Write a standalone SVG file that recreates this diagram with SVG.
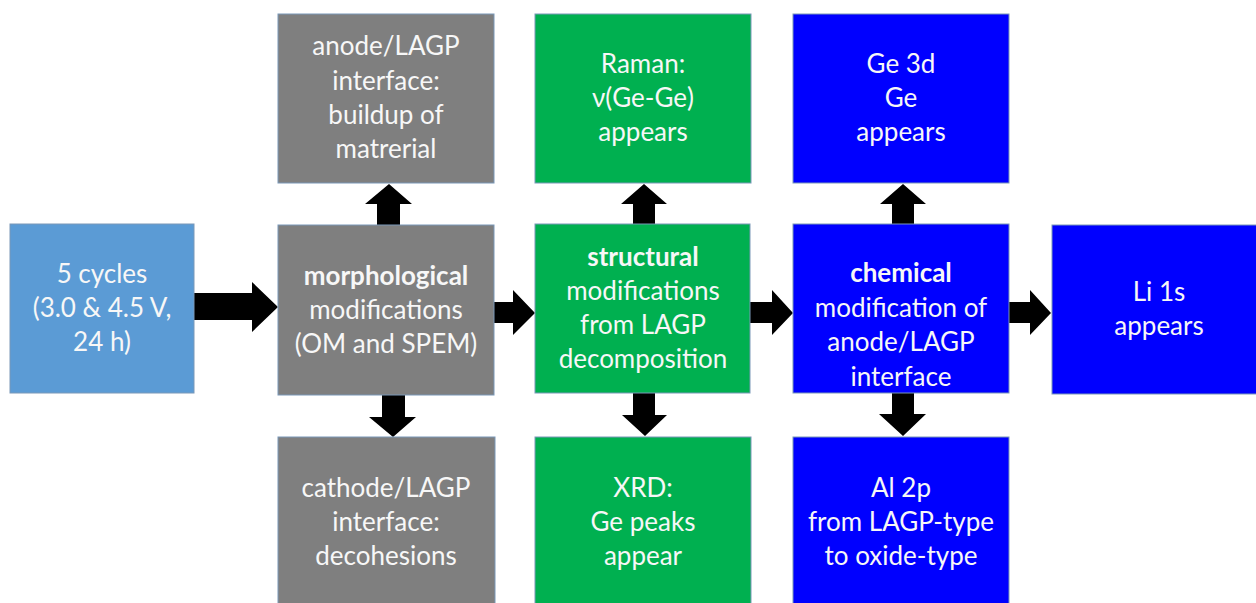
<svg xmlns="http://www.w3.org/2000/svg" width="1256" height="603" viewBox="0 0 1256 603">
  <style>
    .box { stroke: #7a98b8; stroke-width: 1; }
    .lb { fill: #5b9bd5; }
    .gr { fill: #7f7f7f; }
    .gn { fill: #00b050; }
    .bl { fill: #0000ff; }
    text { font-family: Lato, "Open Sans", "Liberation Sans", sans-serif; font-size: 26px; fill: #f7f7f7; text-anchor: middle; }
    .b { font-weight: bold; }
    .arrow { fill: #000000; }
  </style>
  <rect x="0" y="0" width="1256" height="603" fill="#ffffff"/>

  <g id="connectors">
    <!-- horizontal block arrows -->
    <polygon class="arrow" points="194,293 252,293 252,282 278,307 252,332 252,320 194,320"/>
    <polygon class="arrow" points="494,302 513,302 513,290 535,313 513,335 513,323 494,323"/>
    <polygon class="arrow" points="750,302 772,302 772,290 793,313 772,335 772,323 750,323"/>
    <polygon class="arrow" points="1009,302 1030,302 1030,290 1051,313 1030,335 1030,323 1009,323"/>
    <!-- upward block arrows -->
    <polygon class="arrow" points="377,225 377,204 365,204 389,184 412,204 400,204 400,225"/>
    <polygon class="arrow" points="633,224 633,204 621,204 644,184 667,204 655,204 655,224"/>
    <polygon class="arrow" points="892,224 892,204 880,204 903,184 926,204 914,204 914,224"/>
    <!-- downward block arrows -->
    <polygon class="arrow" points="382,395 382,417 369,417 393,437 416,417 405,417 405,395"/>
    <polygon class="arrow" points="633,393 633,415 622,415 645,436 667,415 655,415 655,393"/>
    <polygon class="arrow" points="892,393 892,414 879,414 903,436 926,414 914,414 914,393"/>
  </g>

  <g id="cycles">
    <rect class="box lb" x="10" y="224" width="184" height="169"/>
    <text x="102" y="283">5 cycles</text>
    <text x="102" y="317">(3.0 &amp; 4.5 V,</text>
    <text x="102" y="351">24 h)</text>
  </g>

  <g id="anode-interface">
    <rect class="box gr" x="278" y="14" width="216" height="169"/>
    <text x="386" y="55">anode/LAGP</text>
    <text x="386" y="90">interface:</text>
    <text x="386" y="124">buildup of</text>
    <text x="386" y="158">matrerial</text>
  </g>

  <g id="morphological">
    <rect class="box gr" x="278" y="225" width="216" height="170"/>
    <text class="b" x="386" y="285">morphological</text>
    <text x="386" y="319">modifications</text>
    <text x="386" y="353">(OM and SPEM)</text>
  </g>

  <g id="cathode-interface">
    <rect class="box gr" x="278" y="437" width="217" height="175"/>
    <text x="386" y="497">cathode/LAGP</text>
    <text x="386" y="531">interface:</text>
    <text x="386" y="565">decohesions</text>
  </g>

  <g id="raman">
    <rect class="box gn" x="535" y="14" width="216" height="169"/>
    <text x="643" y="73">Raman:</text>
    <text x="643" y="107">ν(Ge-Ge)</text>
    <text x="643" y="141">appears</text>
  </g>

  <g id="structural">
    <rect class="box gn" x="535" y="224" width="215" height="169"/>
    <text class="b" x="643" y="266">structural</text>
    <text x="643" y="300">modifications</text>
    <text x="643" y="334">from LAGP</text>
    <text x="643" y="368">decomposition</text>
  </g>

  <g id="xrd">
    <rect class="box gn" x="535" y="437" width="216" height="175"/>
    <text x="643" y="497">XRD:</text>
    <text x="643" y="531">Ge peaks</text>
    <text x="643" y="565">appear</text>
  </g>

  <g id="ge3d">
    <rect class="box bl" x="793" y="14" width="216" height="169"/>
    <text x="901" y="73">Ge 3d</text>
    <text x="901" y="107">Ge</text>
    <text x="901" y="141">appears</text>
  </g>

  <g id="chemical">
    <rect class="box bl" x="793" y="224" width="216" height="169"/>
    <text class="b" x="901" y="282">chemical</text>
    <text x="901" y="317">modification of</text>
    <text x="901" y="351">anode/LAGP</text>
    <text x="901" y="386">interface</text>
  </g>

  <g id="al2p">
    <rect class="box bl" x="793" y="437" width="216" height="175"/>
    <text x="901" y="497">Al 2p</text>
    <text x="901" y="531">from LAGP-type</text>
    <text x="901" y="565">to oxide-type</text>
  </g>

  <g id="li1s">
    <rect class="box bl" x="1052" y="225" width="215" height="169"/>
    <text x="1159" y="301">Li 1s</text>
    <text x="1159" y="335">appears</text>
  </g>
</svg>
